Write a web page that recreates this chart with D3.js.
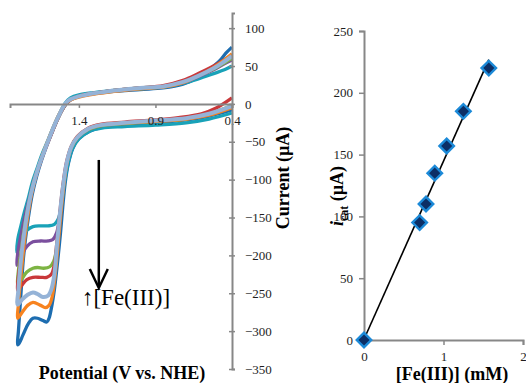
<!DOCTYPE html>
<html>
<head>
<meta charset="utf-8">
<script src="https://cdn.jsdelivr.net/npm/d3@7/dist/d3.min.js"></script>
<style>
  body { margin: 0; background: #fff; }
  svg { display: block; }
  svg text { font-family: 'Liberation Serif', 'Times New Roman', serif; }
</style>
</head>
<body>
<div id="chart"></div>
<script>
// cyclic voltammograms, [potential (V vs NHE), current (uA)]
const cvBlue = [[0.40,-8],[0.55,-16],[0.70,-21],[0.90,-25],[1.10,-28],[1.25,-31],[1.33,-36],[1.40,-46],[1.44,-59],[1.47,-80],[1.49,-105],[1.505,-135],[1.52,-170],[1.54,-210],[1.56,-245],[1.58,-270],[1.595,-283],[1.61,-288],[1.635,-286],[1.67,-283],[1.70,-283],[1.73,-290],[1.765,-305],[1.79,-316],[1.80,-318],
  [1.795,-300],[1.785,-270],[1.775,-240],[1.765,-210],[1.75,-180],[1.73,-150],[1.705,-120],[1.675,-95],[1.645,-75],[1.61,-55],[1.57,-35],[1.535,-18],[1.50,-5],[1.47,3],[1.43,8],[1.35,12],[1.20,16],[1.00,19],[0.85,21],[0.72,26],[0.62,35],[0.55,45],[0.48,57],[0.44,67],[0.40,75]];
const cvOrange = [[0.40,-5],[0.55,-15],[0.70,-20],[0.90,-23],[1.10,-25],[1.26,-28],[1.34,-33],[1.41,-44],[1.45,-57],[1.48,-80],[1.50,-110],[1.52,-150],[1.54,-195],[1.56,-235],[1.575,-255],[1.595,-266],[1.62,-269],[1.65,-266],[1.70,-262],[1.735,-266],[1.77,-275],[1.80,-283],
  [1.795,-265],[1.785,-240],[1.77,-210],[1.755,-180],[1.735,-150],[1.71,-120],[1.68,-95],[1.645,-72],[1.605,-50],[1.565,-30],[1.53,-14],[1.495,-2],[1.46,5],[1.40,9],[1.30,13],[1.15,17],[1.00,20],[0.85,22],[0.72,28],[0.62,37],[0.52,48],[0.45,58],[0.40,66]];
const cvLightBlue = [[0.40,-3],[0.55,-13],[0.70,-19],[0.90,-22],[1.10,-25],[1.26,-28],[1.34,-33],[1.41,-44],[1.45,-57],[1.48,-78],[1.505,-111],[1.525,-147],[1.545,-190],[1.56,-225],[1.58,-245],[1.60,-253],[1.635,-255],[1.67,-251],[1.70,-249],[1.735,-252],[1.77,-258],[1.80,-265],
  [1.795,-245],[1.785,-220],[1.77,-190],[1.75,-160],[1.725,-130],[1.70,-108],[1.67,-87],[1.635,-67],[1.595,-46],[1.555,-26],[1.52,-11],[1.49,0],[1.455,6],[1.40,10],[1.30,14],[1.15,18],[1.00,21],[0.85,23],[0.72,29],[0.62,37],[0.52,47],[0.45,56],[0.40,63]];
const cvRed = [[0.40,8],[0.50,-5],[0.60,-13],[0.75,-18],[0.90,-21],[1.10,-24],[1.26,-27],[1.34,-32],[1.41,-43],[1.45,-56],[1.48,-76],[1.505,-108],[1.525,-145],[1.545,-185],[1.56,-212],[1.58,-225],[1.61,-229],[1.65,-229],[1.70,-229],[1.74,-232],[1.775,-240],[1.80,-246],
  [1.795,-228],[1.78,-205],[1.765,-180],[1.745,-155],[1.72,-128],[1.695,-105],[1.665,-85],[1.63,-65],[1.59,-45],[1.55,-25],[1.515,-10],[1.485,0],[1.45,6],[1.40,10],[1.30,14],[1.15,18],[1.00,21],[0.85,24],[0.72,31],[0.62,40],[0.52,50],[0.45,58],[0.40,65]];
const cvGreen = [[0.40,-2],[0.55,-13],[0.70,-20],[0.90,-23],[1.10,-26],[1.26,-29],[1.34,-34],[1.41,-45],[1.45,-58],[1.48,-79],[1.505,-112],[1.525,-150],[1.545,-190],[1.565,-208],[1.59,-215],[1.63,-217],[1.67,-216],[1.70,-217],[1.74,-222],[1.775,-232],[1.80,-239],
  [1.795,-220],[1.78,-198],[1.765,-175],[1.745,-150],[1.72,-125],[1.695,-103],[1.665,-84],[1.63,-64],[1.59,-44],[1.55,-25],[1.515,-10],[1.485,0],[1.45,6],[1.40,10],[1.30,14],[1.15,18],[1.00,21],[0.85,23],[0.72,29],[0.62,37],[0.52,46],[0.45,54],[0.40,60]];
const cvPurple = [[0.40,-4],[0.55,-14],[0.70,-20],[0.90,-23],[1.10,-26],[1.26,-29],[1.34,-34],[1.41,-45],[1.45,-58],[1.48,-79],[1.505,-112],[1.525,-148],[1.545,-170],[1.57,-179],[1.60,-181],[1.65,-181],[1.70,-182],[1.74,-188],[1.77,-198],[1.79,-208],[1.805,-213],
  [1.80,-198],[1.785,-180],[1.765,-160],[1.745,-142],[1.72,-122],[1.695,-102],[1.665,-84],[1.63,-64],[1.59,-44],[1.55,-25],[1.515,-10],[1.485,0],[1.45,6],[1.40,10],[1.30,14],[1.15,18],[1.00,21],[0.85,23],[0.72,28],[0.62,36],[0.52,45],[0.45,53],[0.40,58]];
const cvTeal = [[0.40,-12],[0.55,-20],[0.70,-25],[0.90,-28],[1.10,-30],[1.25,-32],[1.33,-36],[1.40,-46],[1.44,-58],[1.47,-78],[1.495,-105],[1.515,-135],[1.535,-152],[1.56,-159],[1.60,-161],[1.65,-161],[1.70,-162],[1.74,-167],[1.77,-178],[1.79,-190],[1.805,-196],
  [1.80,-180],[1.78,-162],[1.755,-142],[1.73,-124],[1.705,-104],[1.675,-86],[1.64,-66],[1.60,-47],[1.56,-27],[1.52,-10],[1.49,1],[1.455,8],[1.40,12],[1.30,15],[1.15,18],[1.00,20],[0.85,22],[0.72,27],[0.62,33],[0.52,40],[0.45,45],[0.40,50]];

// drawing order, bottom to top
const cvCurves = [cvBlue, cvTeal, cvPurple, cvGreen, cvRed, cvOrange, cvLightBlue];
const cvColors = ['#1d6db0', '#19a2b8', '#7b4f9e', '#7db443', '#c9383a', '#f7831f', '#95b3d7'];

const potentialTicks = [1.4, 0.9, 0.4];
const currentTicks = [-350, -300, -250, -200, -150, -100, -50, 0, 50, 100];

// catalytic current vs [Fe(III)]
const feConc = [0, 0.70, 0.78, 0.89, 1.04, 1.25, 1.57];
const icat = [0, 95, 110, 135, 157, 185, 220];
const concTicks = [0, 1, 2];
const icatTicks = [0, 50, 100, 150, 200, 250];

const width = 526, height = 383;
const axisColor = '#878787';
const labelColor = '#1e1e1e';
const serif = "'Liberation Serif', 'Times New Roman', serif";

const svg = d3.select('#chart').append('svg')
  .attr('width', width)
  .attr('height', height)
  .attr('font-family', serif);

function styleAxis(g) {
  g.attr('font-family', serif).attr('font-size', 13);
  g.select('.domain').attr('stroke', axisColor).attr('stroke-width', 2);
  g.selectAll('.tick line').attr('stroke', axisColor).attr('stroke-width', 1.5);
  g.selectAll('text').attr('fill', labelColor);
}

// ---- left panel ----
const xL = d3.scaleLinear().domain([1.85, 0.4]).range([10, 232]);
const yL = d3.scaleLinear().domain([-350, 120]).range([369, 13]);

const line = d3.line()
  .x(d => xL(d[0]))
  .y(d => yL(d[1]))
  .curve(d3.curveCatmullRom.alpha(0.5));

svg.append('g').selectAll('path')
  .data(cvCurves)
  .enter().append('path')
  .attr('fill', 'none')
  .attr('stroke', (d, i) => cvColors[i])
  .attr('stroke-width', (d, i) => i === cvCurves.length - 1 ? 4 : 3.3)
  .attr('stroke-linejoin', 'round')
  .attr('d', line);

const gx = svg.append('g')
  .attr('transform', `translate(0,${yL(0)})`)
  .call(d3.axisBottom(xL).tickValues(potentialTicks).tickFormat(d3.format('.1f')).tickSizeOuter(0).tickSize(4).tickPadding(8));

const gy = svg.append('g')
  .attr('transform', `translate(${xL(0.4)},0)`)
  .call(d3.axisRight(yL).tickValues(currentTicks).tickFormat(d3.format('d')).tickSizeOuter(0).tickSize(3).tickPadding(10));
gy.selectAll('.tick line').attr('x1', -3);

styleAxis(gx);
styleAxis(gy);

// arrow + annotation
const arrowV = 1.27, arrowTop = -74, arrowTip = -243;
svg.append('line')
  .attr('x1', xL(arrowV)).attr('x2', xL(arrowV))
  .attr('y1', yL(arrowTop)).attr('y2', yL(arrowTip) - 1)
  .attr('stroke', '#000').attr('stroke-width', 2.5);
svg.append('path')
  .attr('d', `M${xL(arrowV) - 9},${yL(arrowTip) - 19}L${xL(arrowV)},${yL(arrowTip)}L${xL(arrowV) + 9},${yL(arrowTip) - 19}`)
  .attr('fill', 'none').attr('stroke', '#000').attr('stroke-width', 2.5);
svg.append('text')
  .attr('x', xL(1.38)).attr('y', yL(-266))
  .attr('font-size', 23)
  .text('\u2191[Fe(III)]');

svg.append('text')
  .attr('x', 122).attr('y', 379)
  .attr('text-anchor', 'middle')
  .attr('font-size', 18).attr('font-weight', 'bold')
  .text('Potential (V vs. NHE)');

svg.append('text')
  .attr('transform', 'translate(289,178) rotate(-90)')
  .attr('text-anchor', 'middle')
  .attr('font-size', 18).attr('font-weight', 'bold')
  .text('Current (\u00b5A)');

// ---- right panel ----
const xR = d3.scaleLinear().domain([0, 2]).range([364, 523]);
const yR = d3.scaleLinear().domain([0, 250]).range([340, 31]);

const gxr = svg.append('g')
  .attr('transform', `translate(0,${yR(0)})`)
  .call(d3.axisBottom(xR).tickValues(concTicks).tickFormat(d3.format('d')).tickSizeOuter(0).tickSize(5).tickPadding(7));
const gyr = svg.append('g')
  .attr('transform', `translate(${xR(0)},0)`)
  .call(d3.axisLeft(yR).tickValues(icatTicks).tickFormat(d3.format('d')).tickSizeOuter(0).tickSize(5).tickPadding(6));

styleAxis(gxr);
styleAxis(gyr);

// least squares trendline
const mx = d3.mean(feConc), my = d3.mean(icat);
const slope = d3.sum(feConc, (x, i) => (x - mx) * (icat[i] - my)) / d3.sum(feConc, x => (x - mx) * (x - mx));
const icpt = my - slope * mx;
const xMax = d3.max(feConc);
svg.append('line')
  .attr('x1', xR(0)).attr('y1', yR(icpt))
  .attr('x2', xR(xMax)).attr('y2', yR(icpt + slope * xMax))
  .attr('stroke', '#000').attr('stroke-width', 1.6);

const diamond = d3.symbol().type(d3.symbolSquare).size(105);
svg.append('g').selectAll('path')
  .data(feConc)
  .enter().append('path')
  .attr('transform', (d, i) => `translate(${xR(d)},${yR(icat[i])}) rotate(45)`)
  .attr('d', diamond)
  .attr('fill', '#0c2f66')
  .attr('stroke', '#1c8ad8')
  .attr('stroke-width', 2.4);

svg.append('text')
  .attr('x', 452).attr('y', 380)
  .attr('text-anchor', 'middle')
  .attr('font-size', 18).attr('font-weight', 'bold')
  .text('[Fe(III)] (mM)');

const yt = svg.append('text')
  .attr('transform', 'translate(343,196) rotate(-90)')
  .attr('text-anchor', 'middle')
  .attr('font-size', 18).attr('font-weight', 'bold');
yt.append('tspan').attr('font-style', 'italic').text('i');
yt.append('tspan').attr('dy', 5).attr('font-size', 12).text('cat');
yt.append('tspan').attr('dy', -5).text(' (\u00b5A)');
</script>
</body>
</html>
